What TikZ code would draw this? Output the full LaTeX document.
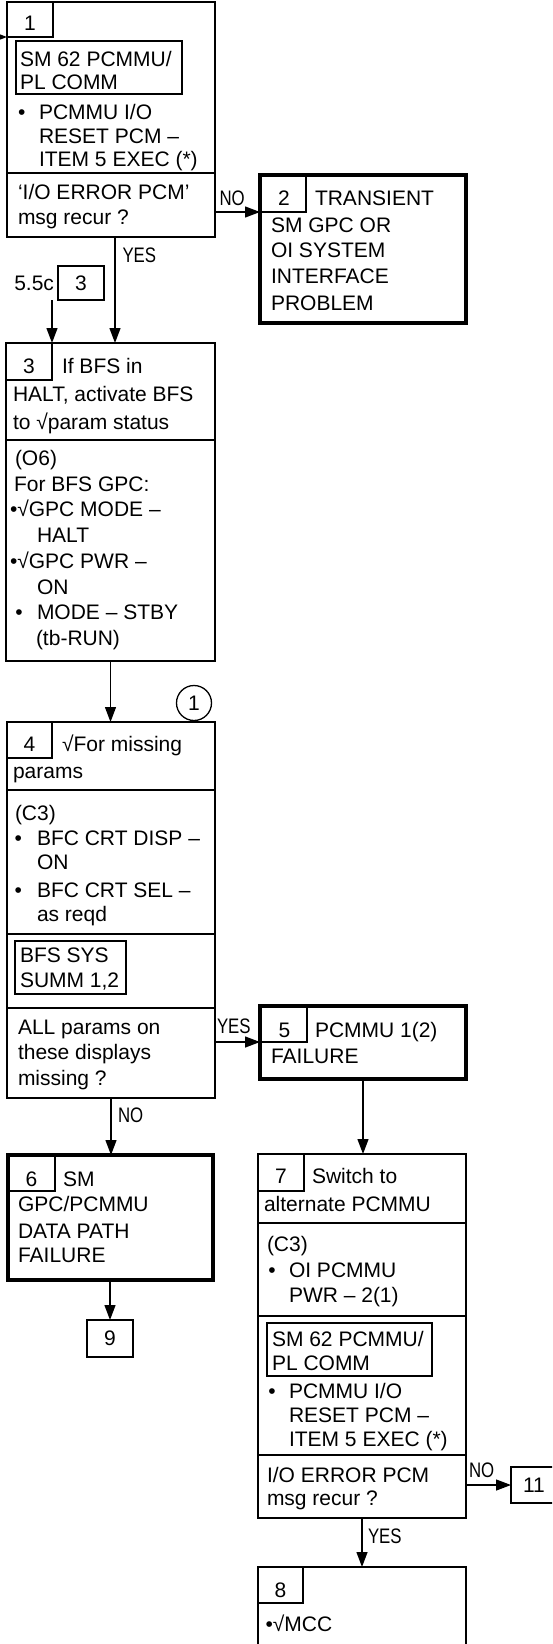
\documentclass[tikz,border=0pt]{standalone}
\usepackage{fontspec}
\setmainfont{Liberation Sans}
\usepackage{graphicx}
\usetikzlibrary{arrows.meta}
\begin{document}
\begin{tikzpicture}[x=1pt,y=-1pt,
  stdbox/.style={draw, line width=1.3pt, inner sep=0pt, outer sep=0pt, anchor=north west},
  heavybox/.style={draw, line width=4.5pt, inner sep=0pt, outer sep=0pt, anchor=north west},
  numbox/.style={draw, line width=1.3pt, inner sep=0pt, outer sep=0pt, anchor=north west, font=\fontsize{21pt}{24pt}\selectfont},
  txt/.style={anchor=base west, inner sep=0pt, outer sep=0pt, font=\fontsize{21pt}{24pt}\selectfont},
  numtxt/.style={anchor=base, inner sep=0pt, outer sep=0pt, font=\fontsize{21pt}{24pt}\selectfont},
  lbl/.style={anchor=base west, inner sep=0pt, outer sep=0pt, font=\fontsize{21pt}{24pt}\selectfont},
  divl/.style={line width=1.3pt},
  conn/.style={line width=1.3pt, -{Triangle[length=15pt,width=11pt]}},
]
\fill[white] (0,0) rectangle (552,1644);
\useasboundingbox (0,0) rectangle (552,1644);
\clip (0,0) rectangle (552,1644);

% ---------- Box 1 ----------
\node[stdbox, minimum width=208pt, minimum height=235pt] (b1) at (7,2) {};
\node[numbox, minimum width=46pt, minimum height=35pt] (n1) at (7,2) {};
\node[numtxt] (n1t) at (n1.center |- 0,30) {1};
\node[stdbox, minimum width=166pt, minimum height=53pt] (d1) at (16,41) {};
\draw[divl] (b1.west |- 0,173) -- (b1.east |- 0,173);
\node[txt] (t1a) at (20,66) {SM 62 PCMMU/};
\node[txt] (t1b) at (20,89) {PL COMM};
\node[txt] (t1c) at (18,119.5) {•};
\node[txt] (t1d) at (39,119.5) {PCMMU I/O};
\node[txt] (t1e) at (39,143) {RESET PCM –};
\node[txt] (t1f) at (39,166) {ITEM 5 EXEC (*)};
\node[txt] (t1g) at (18,199) {‘I/O ERROR PCM’};
\node[txt] (t1h) at (18,224) {msg recur ?};

% ---------- Box 2 ----------
\node[heavybox, minimum width=206pt, minimum height=148pt] (b2) at (260,175) {};
\node[numbox, minimum width=46pt, minimum height=37pt] (n2) at (260,175) {};
\node[numtxt] (n2t) at ([xshift=1pt]n2.center |- 0,205.5) {2};
\node[txt] (t2a) at (315,205.5) {TRANSIENT};
\node[txt] (t2b) at (271,232.5) {SM GPC OR};
\node[txt] (t2c) at (271,257.5) {OI SYSTEM};
\node[txt] (t2d) at (271,283.5) {INTERFACE};
\node[txt] (t2e) at (271,310) {PROBLEM};

% ---------- reference box 3 ----------
\node[numbox, minimum width=46pt, minimum height=34pt] (r3) at (58,266) {3};
\node[txt, anchor=base east] (r3l) at (54,290) {5.5c};

% ---------- Box 3 ----------
\node[stdbox, minimum width=209pt, minimum height=318pt] (b3) at (6,343) {};
\node[numbox, minimum width=46pt, minimum height=37pt] (n3) at (6,343) {};
\node[numtxt] (n3t) at (n3.center |- 0,373.5) {3};
\draw[divl] (b3.west |- 0,440) -- (b3.east |- 0,440);
\node[txt] (t3a) at (62,373.5) {If BFS in};
\node[txt] (t3b) at (13,401) {HALT, activate BFS};
\node[txt] (t3c) at (13,429) {to √param status};
\node[txt] (t3d) at (15,465) {(O6)};
\node[txt] (t3e) at (14,491) {For BFS GPC:};
\node[txt] (t3f) at (10,516.5) {•√GPC MODE –};
\node[txt] (t3g) at (37,542.5) {HALT};
\node[txt] (t3h) at (10,568.5) {•√GPC PWR –};
\node[txt] (t3i) at (37,594) {ON};
\node[txt] (t3j) at (15.5,619.5) {•};
\node[txt] (t3k) at (37,619.5) {MODE – STBY};
\node[txt] (t3l) at (36,645) {(tb-RUN)};

% ---------- connector label circle ----------
\node[draw, circle, line width=1.3pt, minimum size=35pt, inner sep=0pt, font=\fontsize{21pt}{24pt}\selectfont] (c1) at (194,703) {1};

% ---------- Box 4 ----------
\node[stdbox, minimum width=208pt, minimum height=376pt] (b4) at (7,722) {};
\node[numbox, minimum width=45pt, minimum height=36pt] (n4) at (7,722) {};
\node[numtxt] (n4t) at (n4.center |- 0,751) {4};
\draw[divl] (b4.west |- 0,790) -- (b4.east |- 0,790);
\draw[divl] (b4.west |- 0,934) -- (b4.east |- 0,934);
\draw[divl] (b4.west |- 0,1008) -- (b4.east |- 0,1008);
\node[stdbox, minimum width=111pt, minimum height=53pt] (d4) at (15,941) {};
\node[txt] (t4a) at (62,751) {√For missing};
\node[txt] (t4b) at (13,778.5) {params};
\node[txt] (t4c) at (15,820) {(C3)};
\node[txt] (t4d) at (14.5,845.5) {•};
\node[txt] (t4e) at (37,845.5) {BFC CRT DISP –};
\node[txt] (t4f) at (37,869.5) {ON};
\node[txt] (t4g) at (14.5,897) {•};
\node[txt] (t4h) at (37,897) {BFC CRT SEL –};
\node[txt] (t4i) at (37,921.5) {as reqd};
\node[txt] (t4j) at (20,962.5) {BFS SYS};
\node[txt] (t4k) at (20,987) {SUMM 1,2};
\node[txt] (t4l) at (18,1034) {ALL params on};
\node[txt] (t4m) at (18,1059.5) {these displays};
\node[txt] (t4n) at (18,1085) {missing ?};

% ---------- Box 5 ----------
\node[heavybox, minimum width=206pt, minimum height=73pt] (b5) at (260,1006) {};
\node[numbox, minimum width=47pt, minimum height=36pt] (n5) at (260,1006) {};
\node[numtxt] (n5t) at ([xshift=1pt]n5.center |- 0,1037) {5};
\node[txt] (t5a) at (315,1037) {PCMMU 1(2)};
\node[txt] (t5b) at (271,1063) {FAILURE};

% ---------- Box 6 ----------
\node[heavybox, minimum width=205pt, minimum height=125pt] (b6) at (8,1155) {};
\node[numbox, minimum width=47pt, minimum height=36pt] (n6) at (8,1155) {};
\node[numtxt] (n6t) at (n6.center |- 0,1186) {6};
\node[txt] (t6a) at (63,1186) {SM};
\node[txt] (t6b) at (18,1211.5) {GPC/PCMMU};
\node[txt] (t6c) at (18,1238.5) {DATA PATH};
\node[txt] (t6d) at (18,1262) {FAILURE};

% ---------- Box 9 ----------
\node[numbox, minimum width=46pt, minimum height=37pt] (b9) at (87,1320) {9};

% ---------- Box 7 ----------
\node[stdbox, minimum width=208pt, minimum height=364pt] (b7) at (258,1154) {};
\node[numbox, minimum width=46pt, minimum height=37pt] (n7) at (258,1154) {};
\node[numtxt] (n7t) at (n7.center |- 0,1183) {7};
\draw[divl] (b7.west |- 0,1223) -- (b7.east |- 0,1223);
\draw[divl] (b7.west |- 0,1316) -- (b7.east |- 0,1316);
\draw[divl] (b7.west |- 0,1455) -- (b7.east |- 0,1455);
\node[stdbox, minimum width=165pt, minimum height=53pt] (d7) at (267,1323) {};
\node[txt] (t7a) at (312,1183) {Switch to};
\node[txt] (t7b) at (264,1211.5) {alternate PCMMU};
\node[txt] (t7c) at (267,1251) {(C3)};
\node[txt] (t7d) at (268.3,1277.5) {•};
\node[txt] (t7e) at (289,1277.5) {OI PCMMU};
\node[txt] (t7f) at (289,1302.5) {PWR – 2(1)};
\node[txt] (t7g) at (272,1346.5) {SM 62 PCMMU/};
\node[txt] (t7h) at (272,1370) {PL COMM};
\node[txt] (t7i) at (268.3,1398) {•};
\node[txt] (t7j) at (289,1398) {PCMMU I/O};
\node[txt] (t7k) at (289,1422) {RESET PCM –};
\node[txt] (t7l) at (289,1446.5) {ITEM 5 EXEC (*)};
\node[txt] (t7m) at (267,1482) {I/O ERROR PCM};
\node[txt] (t7n) at (267,1505) {msg recur ?};

% ---------- Box 11 ----------
\node[numbox, minimum width=46pt, minimum height=36pt] (b11) at (511,1467) {11};

% ---------- Box 8 ----------
\node[stdbox, minimum width=208pt, minimum height=110pt] (b8) at (258,1567) {};
\node[numbox, minimum width=45pt, minimum height=36pt] (n8) at (258,1567) {};
\node[numtxt] (n8t) at (n8.center |- 0,1597) {8};
\node[txt] (t8a) at (265.5,1631) {•√MCC};

% ---------- connectors ----------
\coordinate (in1) at (-12,37);
\draw[conn] (in1) -- (b1.west |- n1.south);
\draw[conn] (b1.east |- n2.south) -- (b2.west |- n2.south);
\draw[conn] ([xshift=4pt]b1.south) -- ([xshift=4pt]b1.south |- b3.north);
\draw[conn] (n3.north east |- r3.south) -- (n3.north east);
\draw[conn] (b3.south) -- (b3.south |- b4.north);
\draw[conn] (b4.east |- n5.south) -- (b5.west |- n5.south);
\draw[conn] (b4.south) -- (b4.south |- b6.north);
\draw[conn] (b5.south) -- (b5.south |- b7.north);
\draw[conn] (b6.south -| b9.north) -- (b9.north);
\draw[conn] (b7.east |- b11.west) -- (b11.west);
\draw[conn] (b7.south) -- (b7.south |- b8.north);

% ---------- connector labels ----------
\node[lbl] (lno1) at (219.5,205) {\scalebox{0.8}[1]{NO}};
\node[lbl] (lyes1) at (122.5,262) {\scalebox{0.8}[1]{YES}};
\node[lbl] (lyes4) at (217,1033) {\scalebox{0.8}[1]{YES}};
\node[lbl] (lno4) at (118,1122) {\scalebox{0.8}[1]{NO}};
\node[lbl] (lno7) at (469,1477) {\scalebox{0.8}[1]{NO}};
\node[lbl] (lyes7) at (368,1543) {\scalebox{0.8}[1]{YES}};
\end{tikzpicture}
\end{document}
